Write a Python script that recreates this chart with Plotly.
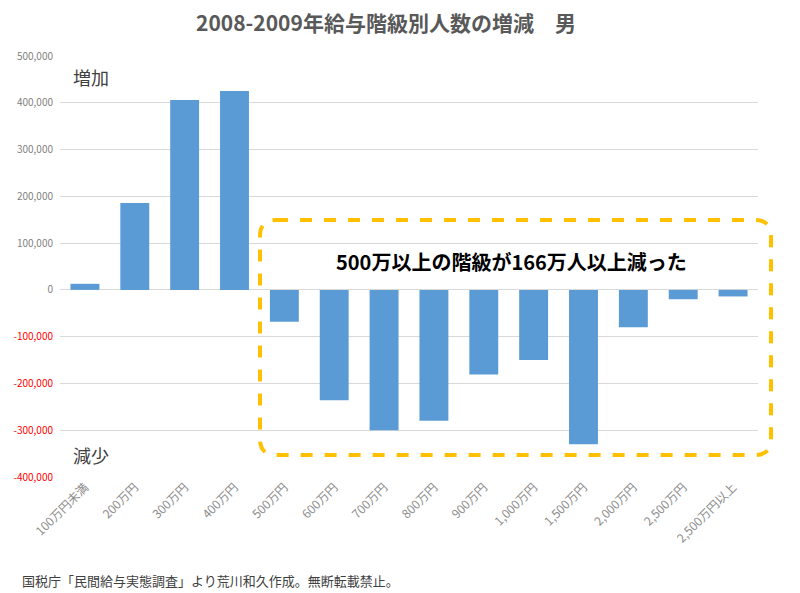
import plotly.graph_objects as go

categories = ["100万円未満", "200万円", "300万円", "400万円", "500万円", "600万円", "700万円",
              "800万円", "900万円", "1,000万円", "1,500万円", "2,000万円", "2,500万円", "2,500万円以上"]
values = [13000, 186000, 406000, 425000, -68000, -236000, -300000,
          -280000, -181000, -150000, -330000, -80000, -20000, -14000]

tick_vals = [500000, 400000, 300000, 200000, 100000, 0, -100000, -200000, -300000, -400000]
tick_text = ["500,000", "400,000", "300,000", "200,000", "100,000", "0",
             "-100,000", "-200,000", "-300,000", "-400,000"]

FONT = "Noto Sans CJK JP"
OFF = 8  # page body margin
W, H = 800 - OFF, 593 - OFF
PL, PR, PT, PB = 60, 758, 56, 477  # plot area in page pixels
L, T = PL - OFF, PT - OFF
R = W - L - (PR - PL)
B = H - T - (PB - PT)

def styled(v, t):
    color = "#FF0000" if v < 0 else "#7F7F7F"
    return f"<span style='color:{color}'>{t}</span>"

fig = go.Figure()
fig.add_trace(go.Bar(x=categories, y=values, marker=dict(color="#5B9BD5", line=dict(width=0))))

pw = PR - PL
ph = PB - PT
def px(x):
    return (x - PL) / pw
def py(y):
    return (PB - y) / ph

fig.update_layout(
    width=W, height=H,
    margin=dict(l=L, r=R, t=T, b=B, autoexpand=False),
    plot_bgcolor="white", paper_bgcolor="white",
    bargap=0.42,
    showlegend=False,
    font=dict(family=FONT, color="#595959"),
)
fig.update_xaxes(tickangle=-45, tickfont=dict(size=12, color="#8C8C8C"), showgrid=False,
                 showline=False, ticks="", automargin=False)
fig.update_yaxes(range=[-400000, 500000], tickvals=tick_vals,
                 ticktext=[styled(v, t) for v, t in zip(tick_vals, tick_text)],
                 tickfont=dict(size=10), gridcolor="#D9D9D9", gridwidth=1,
                 zeroline=True, zerolinecolor="#D9D9D9", zerolinewidth=1, showline=False,
                 automargin=False, ticklabelstandoff=6)

x0, x1, y0, y1, r = 260, 771, 220, 455, 16
path = (f"M {px(x0+r)},{py(y0)} L {px(x1-r)},{py(y0)} Q {px(x1)},{py(y0)} {px(x1)},{py(y0+r)} "
        f"L {px(x1)},{py(y1-r)} Q {px(x1)},{py(y1)} {px(x1-r)},{py(y1)} "
        f"L {px(x0+r)},{py(y1)} Q {px(x0)},{py(y1)} {px(x0)},{py(y1-r)} "
        f"L {px(x0)},{py(y0+r)} Q {px(x0)},{py(y0)} {px(x0+r)},{py(y0)} Z")
fig.add_shape(type="path", path=path, xref="paper", yref="paper",
              line=dict(color="#FFC000", width=4, dash="dash"))

fig.add_annotation(text="<b>2008-2009年給与階級別人数の増減　男</b>", xref="paper", yref="paper",
                   x=px(386), y=py(22), xanchor="center", yanchor="middle", showarrow=False,
                   font=dict(size=21, color="#595959", family=FONT))
fig.add_annotation(text="<b>500万以上の階級が166万人以上減った</b>", xref="paper", yref="paper",
                   x=px(511), y=py(262), xanchor="center", yanchor="middle", showarrow=False,
                   font=dict(size=20, color="#000000", family=FONT))
fig.add_annotation(text="増加", xref="paper", yref="paper", x=px(71), y=py(77), xanchor="left",
                   yanchor="middle", showarrow=False, font=dict(size=18, color="#404040", family=FONT))
fig.add_annotation(text="減少", xref="paper", yref="paper", x=px(71), y=py(455), xanchor="left",
                   yanchor="middle", showarrow=False, font=dict(size=18, color="#404040", family=FONT))
fig.add_annotation(text="国税庁「民間給与実態調査」より荒川和久作成。無断転載禁止。", xref="paper", yref="paper",
                   x=px(20), y=py(580), xanchor="left", yanchor="middle", showarrow=False,
                   font=dict(size=13, color="#404040", family=FONT))

fig.write_html("out.html")
